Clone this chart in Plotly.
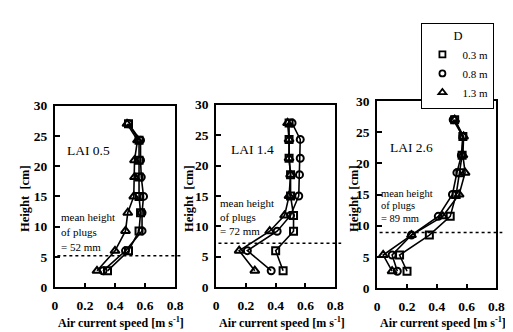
import plotly.graph_objects as go

# ---------------- data ----------------
lai_labels = ["LAI 0.5", "LAI 1.4", "LAI 2.6"]
plug_heights_mm = [52, 72, 89]
series_names = ["0.3 m", "0.8 m", "1.3 m"]

heights_p1 = [2.7, 6.0, 9.3, 12.3, 15.0, 18.2, 21.0, 24.3, 27.0]
sq_p1 = [0.35, 0.49, 0.56, 0.57, 0.56, 0.56, 0.56, 0.56, 0.49]
ci_p1 = [0.32, 0.47, 0.58, 0.58, 0.59, 0.575, 0.57, 0.57, 0.49]
tr_p1 = [0.28, 0.40, 0.47, 0.485, 0.525, 0.53, 0.53, 0.55, 0.48]

heights_p2 = [2.7, 6.0, 9.2, 11.8, 15.0, 18.5, 21.2, 24.3, 27.0]
sq_p2 = [0.45, 0.40, 0.52, 0.52, 0.50, 0.50, 0.49, 0.49, 0.49]
ci_p2 = [0.37, 0.21, 0.41, 0.50, 0.555, 0.56, 0.565, 0.565, 0.51]
tr_p2 = [0.26, 0.155, 0.36, 0.46, 0.49, 0.50, 0.49, 0.49, 0.48]

heights_p3 = [2.7, 5.3, 8.5, 11.5, 15.0, 18.5, 21.3, 24.3, 27.0]
sq_p3 = [0.20, 0.15, 0.35, 0.49, 0.53, 0.555, 0.57, 0.575, 0.52]
ci_p3 = [0.135, 0.10, 0.23, 0.41, 0.505, 0.535, 0.565, 0.575, 0.51]
tr_p3 = [0.10, 0.04, 0.23, 0.44, 0.55, 0.59, 0.575, 0.58, 0.52]

x_ticks = [0, 0.2, 0.4, 0.6, 0.8]
x_tick_text = ["0", "0.2", "0.4", "0.6", "0.8"]
y_ticks = [0, 5, 10, 15, 20, 25, 30]

panels = [
    (heights_p1, [sq_p1, ci_p1, tr_p1]),
    (heights_p2, [sq_p2, ci_p2, tr_p2]),
    (heights_p3, [sq_p3, ci_p3, tr_p3]),
]

# ---------------- styling ----------------
W, H = 513, 332
FONT = "Liberation Serif"
symbols = ["square-open", "circle-open", "triangle-up-open"]
msizes = [7, 7, 8]

# pixel boxes (left, right, top, bottom)
boxes = [(45, 168, 95, 285), (210, 332, 94, 285), (375, 497, 90, 286)]

fig = go.Figure()

for i, (hts, series) in enumerate(panels):
    ax = "" if i == 0 else str(i + 1)
    for j, vals in enumerate(series):
        fig.add_trace(go.Scatter(
            x=vals, y=hts, mode="lines+markers",
            xaxis="x" + ax, yaxis="y" + ax,
            line=dict(color="black", width=1.6),
            marker=dict(symbol=symbols[j], size=msizes[j], color="black",
                        line=dict(color="black", width=2)),
            showlegend=False, hoverinfo="skip"))

# legend-only entries
for j, name in enumerate(series_names):
    fig.add_trace(go.Scatter(
        x=[None], y=[None], mode="markers", name=name,
        marker=dict(symbol=symbols[j], size=msizes[j] - 1, color="black",
                    line=dict(color="black", width=1.8)),
        xaxis="x3", yaxis="y3"))

layout = dict(
    width=W, height=H, autosize=False,
    margin=dict(l=0, r=0, t=0, b=0),
    paper_bgcolor="white", plot_bgcolor="white",
    font=dict(family=FONT, color="black", size=12),
    showlegend=True,
    legend=dict(
        x=495 / W, xanchor="right", y=1 - 8 / H, yanchor="top",
        bordercolor="black", borderwidth=1, bgcolor="white",
        font=dict(family=FONT, size=11, color="black"),
        title=dict(text="D", side="top center",
                   font=dict(family=FONT, size=12.5, color="black")),
        itemwidth=30, tracegroupgap=0,
    ),
)

annotations = []
shapes = []
for i, (l, r, t, b) in enumerate(boxes):
    ax = "" if i == 0 else str(i + 1)
    layout["xaxis" + ax] = dict(
        domain=[l / W, r / W], range=[0, 0.8], anchor="y" + ax,
        tickvals=x_ticks, ticktext=x_tick_text,
        ticks="inside", ticklen=4, tickwidth=1.5, tickcolor="black",
        showline=True, linecolor="black", linewidth=2, mirror=True,
        showgrid=False, zeroline=False, fixedrange=True,
        ticklabelstandoff=5,
        tickfont=dict(family=FONT, size=13.5, color="black", weight="bold"),
    )
    layout["yaxis" + ax] = dict(
        domain=[1 - b / H, 1 - t / H], range=[0, 30], anchor="x" + ax,
        tickvals=y_ticks,
        ticks="inside", ticklen=5, tickwidth=1.5, tickcolor="black",
        showline=True, linecolor="black", linewidth=2, mirror=True,
        showgrid=False, zeroline=False, fixedrange=True,
        ticklabelstandoff=3,
        tickfont=dict(family=FONT, size=13.5, color="black", weight="bold"),
    )
    # dotted line at mean plug height
    shapes.append(dict(
        type="line", xref="x" + ax + " domain", yref="y" + ax,
        x0=0.02, x1=1.05,
        y0=plug_heights_mm[i] / 10, y1=plug_heights_mm[i] / 10,
        line=dict(color="black", width=1.5, dash="dot")))
    # x title
    annotations.append(dict(
        xref="x" + ax + " domain", yref="paper", x=0.55, y=1 - 322 / H,
        text="<b>Air current speed [m s<sup>-1</sup>]</b>", showarrow=False,
        xanchor="center", yanchor="middle",
        font=dict(family=FONT, size=12, color="black")))
    # y title
    ytx = [15, 183, 352][i]
    annotations.append(dict(
        xref="paper", yref="paper", x=ytx / W, y=1 - 192 / H,
        text="<b>Height  [cm]</b>", showarrow=False, textangle=-90,
        xanchor="center", yanchor="middle",
        font=dict(family=FONT, size=12.5, color="black")))
    # LAI label
    annotations.append(dict(
        xref="x" + ax, yref="y" + ax, x=[0.065, 0.085, 0.07][i], y=22.6,
        text=lai_labels[i], showarrow=False, xanchor="left", yanchor="middle",
        font=dict(family=FONT, size=13.5, color="black")))
    # mean height text lines
    lines = ["mean height", "of plugs", "= %d mm" % plug_heights_mm[i]]
    ypos = [[11.6, 9.1, 6.7], [13.8, 11.5, 9.2], [15.2, 13.2, 11.2]][i]
    xpos = [0.03, 0.015, 0.01][i]
    fsz = [11, 11, 10.5][i]
    for k in range(3):
        annotations.append(dict(
            xref="x" + ax, yref="y" + ax, x=xpos, y=ypos[k],
            text=lines[k], showarrow=False, xanchor="left", yanchor="middle",
            font=dict(family=FONT, size=fsz, color="black")))

layout["annotations"] = annotations
layout["shapes"] = shapes
fig.update_layout(**layout)

fig.write_html("out.html")
